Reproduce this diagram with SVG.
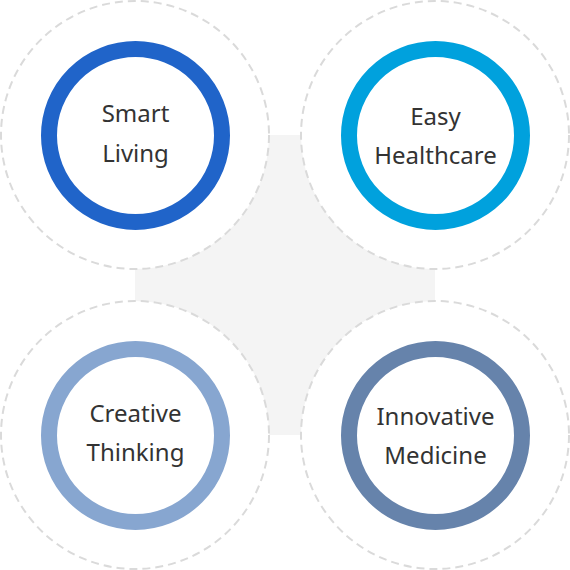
<svg xmlns="http://www.w3.org/2000/svg" width="570" height="570" viewBox="0 0 570 570">
<style>
.bg{fill:#f4f4f4}
.outer{fill:#fff;stroke:#dadada;stroke-width:2;stroke-dasharray:8 5}
.ring{fill:#fff;stroke-width:16}
.lbl{font-family:"Noto Sans","Open Sans","Liberation Sans",sans-serif;font-size:24px;fill:#333;text-anchor:middle}
</style>
<rect class="bg" x="135" y="135" width="300" height="300"/>
<g id="smart-living">
<circle class="outer" cx="135" cy="135" r="134"/>
<circle class="ring" cx="135.5" cy="135.5" r="86.5" stroke="#2064c9"/>
<text class="lbl" x="135.5" y="122">Smart</text>
<text class="lbl" x="135.5" y="162">Living</text>
</g>
<g id="easy-healthcare">
<circle class="outer" cx="435" cy="135" r="134"/>
<circle class="ring" cx="435.5" cy="135.5" r="86.5" stroke="#00a1dd"/>
<text class="lbl" x="435.5" y="125">Easy</text>
<text class="lbl" x="435.5" y="164">Healthcare</text>
</g>
<g id="creative-thinking">
<circle class="outer" cx="135" cy="435" r="134"/>
<circle class="ring" cx="135.5" cy="435.5" r="86.5" stroke="#87a6d0"/>
<text class="lbl" x="135.5" y="421.5">Creative</text>
<text class="lbl" x="135.5" y="460.5">Thinking</text>
</g>
<g id="innovative-medicine">
<circle class="outer" cx="435" cy="435" r="134"/>
<circle class="ring" cx="435.5" cy="435.5" r="86.5" stroke="#6683ab"/>
<text class="lbl" x="435.5" y="424.5">Innovative</text>
<text class="lbl" x="435.5" y="464">Medicine</text>
</g>
<g id="connectors"/>
</svg>
